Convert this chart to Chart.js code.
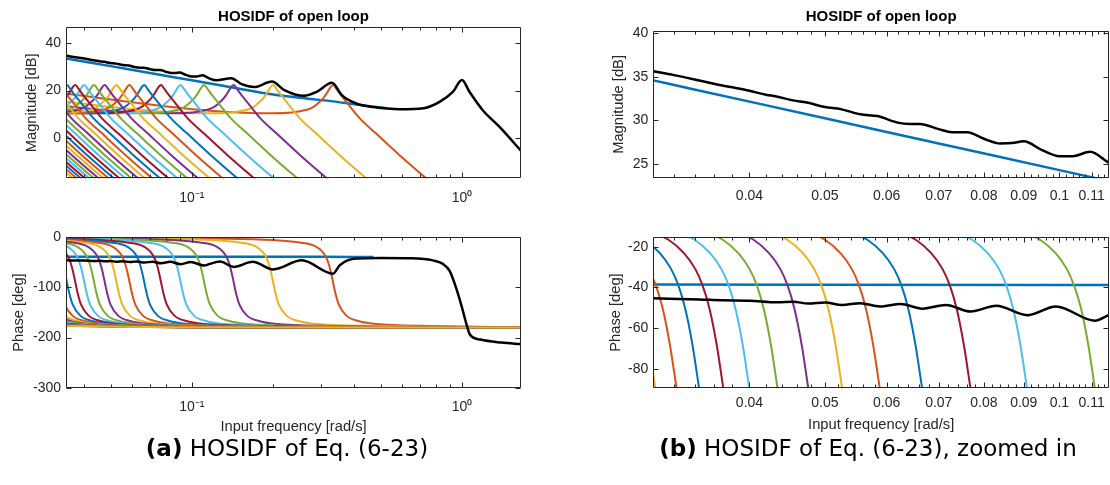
<!DOCTYPE html>
<html>
<head>
<meta charset="utf-8">
<script src="https://cdn.jsdelivr.net/npm/chart.js@4.4.1/dist/chart.umd.min.js"></script>
<style>
  html, body { margin: 0; padding: 0; background: #fff; }
  #page { position: relative; width: 1110px; height: 485px; overflow: hidden; }
  #page canvas { position: absolute; }
  .cap { position: absolute; top: 434px; width: 600px; line-height: 28px; text-align: center;
         font-family: "DejaVu Sans", sans-serif; font-size: 23px; color: #000; white-space: nowrap; }
</style>
</head>
<body>
<div id="page">
  <canvas id="magFull" width="587" height="215" style="left:0;top:0"></canvas>
  <canvas id="phaseFull" width="587" height="230" style="left:0;top:215px"></canvas>
  <canvas id="magZoom" width="562" height="215" style="left:600px;top:0"></canvas>
  <canvas id="phaseZoom" width="520" height="230" style="left:600px;top:215px"></canvas>
  <div class="cap" style="left:-13px"><b>(a)</b> HOSIDF of Eq. (6-23)</div>
  <div class="cap" style="left:568px"><b>(b)</b> HOSIDF of Eq. (6-23), zoomed in</div>
</div>
<script>
(function () {
  "use strict";

  // ------------------------------------------------------------
  // Data
  // ------------------------------------------------------------

  // black curve (open loop, first harmonic)
  const blackMagFreq = [0.0301, 0.032, 0.034, 0.036, 0.038, 0.04, 0.042, 0.0433, 0.0455, 0.0474, 0.05, 0.0524, 0.0555, 0.0584, 0.062, 0.0642, 0.0662, 0.07, 0.0728, 0.0762, 0.08, 0.084, 0.087, 0.09, 0.095, 0.1, 0.104, 0.1095, 0.116, 0.123, 0.14, 0.153, 0.17, 0.198, 0.22, 0.26, 0.29, 0.33, 0.36, 0.406, 0.47, 0.59, 0.72, 0.826, 0.925, 1.0, 1.066, 1.194, 1.375, 1.66];
  const blackMag = [35.65, 35.2, 34.7, 34.2, 33.8, 33.4, 32.95, 32.75, 32.3, 32.05, 31.55, 31.3, 30.7, 30.5, 29.75, 29.6, 29.6, 29.0, 28.65, 28.65, 27.9, 27.35, 27.4, 27.6, 26.6, 25.9, 25.9, 26.4, 25.1, 24.3, 25.2, 22.7, 21.5, 23.8, 20.2, 17.8, 19.5, 23.3, 18.0, 14.6, 13.1, 12.2, 12.6, 15.3, 19.5, 24.4, 19.5, 11.8, 4.9, -5.4];
  const blackPhaseFreq = [0.0301, 0.0345, 0.037, 0.04, 0.0435, 0.0455, 0.0476, 0.05, 0.0526, 0.0555, 0.0588, 0.0625, 0.0667, 0.0715, 0.0769, 0.083, 0.0909, 0.099, 0.111, 0.1165, 0.127, 0.143, 0.168, 0.2, 0.255, 0.333, 0.353, 0.406, 0.5, 0.65, 0.78, 0.85, 0.9, 0.95, 1.0, 1.04, 1.07, 1.17, 1.4, 1.66];
  const blackPhase = [-45.3, -45.9, -46.3, -46.5, -47.3, -47.0, -47.9, -47.4, -48.6, -47.7, -49.3, -48.1, -50.4, -48.6, -51.8, -49.0, -53.6, -49.3, -56.3, -53, -48.5, -59, -49, -64, -46, -72.5, -55.6, -42.5, -41.5, -42, -46, -53, -67, -100, -140, -174, -194, -204, -210, -213];

  // blue curve
  const blueMagFreq = [0.0301, 0.0342, 0.05, 0.07, 0.1, 0.14, 0.2, 0.27, 0.333, 0.4, 0.47, 0.52];
  const blueMag = [34.6, 33.5, 30.25, 27.35, 24.3, 21.4, 18.35, 16.6, 15.5, 14.3, 13.3, 12.7];
  const bluePhaseFreq = [0.0301, 0.1, 0.3, 0.47];
  const bluePhase = [-38.6, -38.8, -39.0, -39.2];

  // higher harmonics: levels shared by every harmonic (they are the same curve
  // moved along the axis), the frequencies where each harmonic passes them
  const magLevels = [19.0, 14.5, 11.6, 10.5, 12.0, 13.3, 15.2, 16.9, 18.3, 20.0, 21.6, 22.4, 21.3, 19.3, 15.3, 8.6, 1.8, -6.7, -16.5, -25, -50, -100];
  const phaseLevels = [-0.6, -1.2, -2.3, -5.4, -12.5, -16.6, -23.2, -30.9, -38.9, -50.8, -68, -90, -111.6, -134.3, -156.2, -167.5, -172.9, -175.2, -176.7, -177.5, -179.3, -180];

  const freqH3 = [0.03333, 0.06667, 0.1167, 0.2, 0.2667, 0.2833, 0.2967, 0.3067, 0.3133, 0.32, 0.3267, 0.3333, 0.34, 0.35, 0.3733, 0.4167, 0.4833, 0.5833, 0.7333, 0.9, 1.667, 33.33];
  const freqH5 = [0.02, 0.04, 0.07, 0.12, 0.16, 0.17, 0.178, 0.184, 0.188, 0.192, 0.196, 0.2, 0.204, 0.21, 0.224, 0.25, 0.29, 0.35, 0.44, 0.54, 1.0, 20];
  const freqH7 = [0.02857, 0.05, 0.08571, 0.1143, 0.1214, 0.1271, 0.1314, 0.1343, 0.1371, 0.14, 0.1429, 0.1457, 0.15, 0.16, 0.1786, 0.2071, 0.25, 0.3143, 0.3857, 0.7143, 14.29];
  const freqH9 = [0.02222, 0.03889, 0.06667, 0.08889, 0.09444, 0.09889, 0.1022, 0.1044, 0.1067, 0.1089, 0.1111, 0.1133, 0.1167, 0.1244, 0.1389, 0.1611, 0.1944, 0.2444, 0.3, 0.5556, 11.11];
  const freqH11 = [0.03182, 0.05455, 0.07273, 0.07727, 0.08091, 0.08364, 0.08545, 0.08727, 0.08909, 0.09091, 0.09273, 0.09545, 0.1018, 0.1136, 0.1318, 0.1591, 0.2, 0.2455, 0.4545, 9.091];
  const freqH13 = [0.02692, 0.04615, 0.06154, 0.06538, 0.06846, 0.07077, 0.07231, 0.07385, 0.07538, 0.07692, 0.07846, 0.08077, 0.08615, 0.09615, 0.1115, 0.1346, 0.1692, 0.2077, 0.3846, 7.692];
  const freqH15 = [0.02333, 0.04, 0.05333, 0.05667, 0.05933, 0.06133, 0.06267, 0.064, 0.06533, 0.06667, 0.068, 0.07, 0.07467, 0.08333, 0.09667, 0.1167, 0.1467, 0.18, 0.3333, 6.667];
  const freqH17 = [0.02059, 0.03529, 0.04706, 0.05, 0.05235, 0.05412, 0.05529, 0.05647, 0.05765, 0.05882, 0.06, 0.06176, 0.06588, 0.07353, 0.08529, 0.1029, 0.1294, 0.1588, 0.2941, 5.882];
  const freqH19 = [0.03158, 0.04211, 0.04474, 0.04684, 0.04842, 0.04947, 0.05053, 0.05158, 0.05263, 0.05368, 0.05526, 0.05895, 0.06579, 0.07632, 0.09211, 0.1158, 0.1421, 0.2632, 5.263];
  const freqH21 = [0.02857, 0.0381, 0.04048, 0.04238, 0.04381, 0.04476, 0.04571, 0.04667, 0.04762, 0.04857, 0.05, 0.05333, 0.05952, 0.06905, 0.08333, 0.1048, 0.1286, 0.2381, 4.762];
  const freqH23 = [0.02609, 0.03478, 0.03696, 0.0387, 0.04, 0.04087, 0.04174, 0.04261, 0.04348, 0.04435, 0.04565, 0.0487, 0.05435, 0.06304, 0.07609, 0.09565, 0.1174, 0.2174, 4.348];
  const freqH25 = [0.032, 0.034, 0.0356, 0.0368, 0.0376, 0.0384, 0.0392, 0.04, 0.0408, 0.042, 0.0448, 0.05, 0.058, 0.07, 0.088, 0.108, 0.2, 4];
  const freqH27 = [0.02963, 0.03148, 0.03296, 0.03407, 0.03481, 0.03556, 0.0363, 0.03704, 0.03778, 0.03889, 0.04148, 0.0463, 0.0537, 0.06481, 0.08148, 0.1, 0.1852, 3.704];
  const freqH29 = [0.02931, 0.03069, 0.03172, 0.03241, 0.0331, 0.03379, 0.03448, 0.03517, 0.03621, 0.03862, 0.0431, 0.05, 0.06034, 0.07586, 0.0931, 0.1724, 3.448];
  const freqH31 = [0.02968, 0.03032, 0.03097, 0.03161, 0.03226, 0.0329, 0.03387, 0.03613, 0.04032, 0.04677, 0.05645, 0.07097, 0.0871, 0.1613, 3.226];
  const freqH33 = [0.0297, 0.0303, 0.03091, 0.03182, 0.03394, 0.03788, 0.04394, 0.05303, 0.06667, 0.08182, 0.1515, 3.03];
  const freqH35 = [0.032, 0.03571, 0.04143, 0.05, 0.06286, 0.07714, 0.1429, 2.857];
  const freqH37 = [0.03378, 0.03919, 0.0473, 0.05946, 0.07297, 0.1351, 2.703];
  const freqH39 = [0.03205, 0.03718, 0.04487, 0.05641, 0.06923, 0.1282, 2.564];
  const freqH41 = [0.03049, 0.03537, 0.04268, 0.05366, 0.06585, 0.122, 2.439];
  const freqH43 = [0.03372, 0.0407, 0.05116, 0.06279, 0.1163, 2.326];
  const freqH45 = [0.03222, 0.03889, 0.04889, 0.06, 0.1111, 2.222];
  const freqH47 = [0.03085, 0.03723, 0.04681, 0.05745, 0.1064, 2.128];
  const freqH49 = [0.02959, 0.03571, 0.0449, 0.0551, 0.102, 2.041];
  const freqH51 = [0.02843, 0.03431, 0.04314, 0.05294, 0.09804, 1.961];
  const freqH53 = [0.03302, 0.04151, 0.05094, 0.09434, 1.887];
  const freqH55 = [0.03182, 0.04, 0.04909, 0.09091, 1.818];
  const freqH57 = [0.0307, 0.0386, 0.04737, 0.08772, 1.754];
  const freqH59 = [0.02966, 0.03729, 0.04576, 0.08475, 1.695];
  const freqH61 = [0.02869, 0.03607, 0.04426, 0.08197, 1.639];

  const harmonicOrders = [3, 5, 7, 9, 11, 13, 15, 17, 19, 21, 23, 25, 27, 29, 31, 33, 35, 37, 39, 41, 43, 45, 47, 49, 51, 53, 55, 57, 59, 61];
  const harmonicFreqs = [freqH3, freqH5, freqH7, freqH9, freqH11, freqH13, freqH15, freqH17, freqH19, freqH21, freqH23, freqH25, freqH27, freqH29, freqH31, freqH33, freqH35, freqH37, freqH39, freqH41, freqH43, freqH45, freqH47, freqH49, freqH51, freqH53, freqH55, freqH57, freqH59, freqH61];

  // axis ticks
  const fullTicks = [0.1, 1];
  const fullTickLabels = ["10\u207B\u00B9", "10\u2070"];
  const fullMinor = [0.04, 0.05, 0.06, 0.07, 0.08, 0.09, 0.2, 0.3, 0.4, 0.5, 0.6, 0.7, 0.8, 0.9];
  const zoomTicks = [0.04, 0.05, 0.06, 0.07, 0.08, 0.09, 0.1, 0.11];
  const zoomTickLabels = ["0.04", "0.05", "0.06", "0.07", "0.08", "0.09", "0.1", "0.11"];
  const zoomMinor = [0.032, 0.034, 0.036, 0.038, 0.042, 0.044, 0.046, 0.048, 0.052, 0.054, 0.056, 0.058, 0.062, 0.064, 0.066, 0.068, 0.072, 0.074, 0.076, 0.078, 0.082, 0.084, 0.086, 0.088, 0.092, 0.094, 0.096, 0.098, 0.102, 0.104, 0.106, 0.108, 0.112, 0.114];

  // matlab default colour order
  const lineColors = ["#0072BD", "#D95319", "#EDB120", "#7E2F8E", "#77AC30", "#4DBEEE", "#A2142F"];

  const AXIS_COLOR = "#262626";
  const FONT = "Liberation Sans";

  // ------------------------------------------------------------
  // helpers
  // ------------------------------------------------------------
  function pairs(xs, ys) {
    return xs.map((x, i) => ({ x: x, y: ys[i] }));
  }

  function curve(xs, ys, color, width) {
    return { data: pairs(xs, ys), borderColor: color, borderWidth: width, showLine: true, pointRadius: 0, clip: 0 };
  }

  function harmonicCurves(levels) {
    // higher orders listed first so they end up drawn on top
    const sets = harmonicOrders.map((n, i) => {
      const f = harmonicFreqs[i];
      const lv = levels.slice(levels.length - f.length);
      return curve(f, lv, lineColors[((n - 1) / 2) % 7], 2);
    });
    return sets.reverse();
  }

  // box + inward tick marks like matlab axes
  const matlabAxes = {
    id: "matlabAxes",
    afterDatasetsDraw(chart, args, opts) {
      const { ctx, chartArea: a } = chart;
      const x = chart.scales.x, y = chart.scales.y;
      const L = Math.round(a.left) + 0.5, R = Math.round(a.right) - 0.5;
      const T = Math.round(a.top) + 0.5, B = Math.round(a.bottom) - 0.5;
      ctx.save();
      ctx.strokeStyle = AXIS_COLOR;
      ctx.lineWidth = 1;
      ctx.beginPath();
      const xMark = (v, len) => {
        const p = Math.round(x.getPixelForValue(v)) + 0.5;
        ctx.moveTo(p, B); ctx.lineTo(p, B - len);
        ctx.moveTo(p, T); ctx.lineTo(p, T + len);
      };
      const yMark = (v, len) => {
        const p = Math.round(y.getPixelForValue(v)) + 0.5;
        ctx.moveTo(L, p); ctx.lineTo(L + len, p);
        ctx.moveTo(R, p); ctx.lineTo(R - len, p);
      };
      x.ticks.forEach(t => xMark(t.value, 5));
      (opts.xMinor || []).forEach(v => xMark(v, 3));
      y.ticks.forEach(t => yMark(t.value, 5));
      ctx.rect(L, T, R - L, B - T);
      ctx.stroke();
      ctx.restore();
    }
  };

  function makePanel(id, c) {
    return new Chart(document.getElementById(id), {
      type: "scatter",
      data: { datasets: c.datasets },
      options: {
        responsive: false,
        animation: false,
        events: [],
        layout: { padding: c.padding },
        elements: { line: { cubicInterpolationMode: "monotone" }, point: { radius: 0 } },
        plugins: {
          legend: { display: false },
          tooltip: { enabled: false },
          title: c.title ? {
            display: true, text: c.title, color: "#000", fullSize: false,
            font: { family: FONT, size: 15, weight: "bold" },
            padding: { top: 7.5, bottom: c.titlePad }
          } : { display: false },
          matlabAxes: { xMinor: c.xMinor }
        },
        scales: {
          x: {
            type: "logarithmic",
            min: c.xMin, max: c.xMax,
            afterBuildTicks: s => { s.ticks = c.xTicks.map(v => ({ value: v })); },
            afterFit: s => { s.height = c.xAxisHeight; },
            grid: { display: false, drawTicks: false },
            border: { display: false },
            ticks: {
              autoSkip: false, maxRotation: 0, minRotation: 0,
              padding: c.xTickPad, color: AXIS_COLOR,
              font: { family: FONT, size: 14 },
              callback: (v, i) => c.xLabels[i]
            },
            title: c.xTitle ? {
              display: true, text: c.xTitle, color: AXIS_COLOR,
              font: { family: FONT, size: 14.7 },
              padding: { top: 0, bottom: c.xTitlePad }
            } : { display: false }
          },
          y: {
            min: c.yMin, max: c.yMax,
            afterBuildTicks: s => { s.ticks = c.yTicks.map(v => ({ value: v })); },
            afterFit: s => { s.width = c.yAxisWidth; },
            grid: { display: false, drawTicks: false },
            border: { display: false },
            ticks: {
              padding: 5, color: AXIS_COLOR,
              font: { family: FONT, size: 14 },
              callback: v => String(v)
            },
            title: {
              display: true, text: c.yTitle, color: AXIS_COLOR,
              font: { family: FONT, size: 14.7 },
              padding: { top: c.yTitlePad, bottom: 0 }
            }
          }
        }
      },
      plugins: [matlabAxes]
    });
  }

  // ------------------------------------------------------------
  // panels
  // ------------------------------------------------------------
  makePanel("magFull", {
    datasets: [curve(blackMagFreq, blackMag, "#000", 2.5)]
      .concat(harmonicCurves(magLevels), [curve(blueMagFreq, blueMag, lineColors[0], 2.5)]),
    padding: { left: 0, top: 0, right: 66, bottom: 0 },
    title: "HOSIDF of open loop", titlePad: 1.8,
    xMin: 0.0342, xMax: 1.654, xTicks: fullTicks, xLabels: fullTickLabels, xMinor: fullMinor,
    xAxisHeight: 36.7, xTickPad: 11.3,
    yMin: -16.7, yMax: 46.5, yTicks: [0, 20, 40], yAxisWidth: 66,
    yTitle: "Magnitude [dB]", yTitlePad: 23
  });

  makePanel("phaseFull", {
    datasets: [curve(blackPhaseFreq, blackPhase, "#000", 2.5)]
      .concat(harmonicCurves(phaseLevels), [curve(bluePhaseFreq, bluePhase, lineColors[0], 2.5)]),
    padding: { left: 0, top: 22.3, right: 66, bottom: 0 },
    xMin: 0.0342, xMax: 1.654, xTicks: fullTicks, xLabels: fullTickLabels, xMinor: fullMinor,
    xAxisHeight: 57.3, xTickPad: 10.6,
    xTitle: "Input frequency [rad/s]", xTitlePad: 9.2,
    yMin: -300, yMax: 0, yTicks: [-300, -200, -100, 0], yAxisWidth: 66,
    yTitle: "Phase [deg]", yTitlePad: 10.2
  });

  makePanel("magZoom", {
    datasets: [curve(blackMagFreq, blackMag, "#000", 2.5), curve(blueMagFreq, blueMag, lineColors[0], 2.5)],
    padding: { left: 0, top: 0, right: 53, bottom: 0 },
    title: "HOSIDF of open loop", titlePad: 5,
    xMin: 0.0301, xMax: 0.1158, xTicks: zoomTicks, xLabels: zoomTickLabels, xMinor: zoomMinor,
    xAxisHeight: 36.7, xTickPad: 9.1,
    yMin: 23.36, yMax: 40.32, yTicks: [25, 30, 35, 40], yAxisWidth: 53.3,
    yTitle: "Magnitude [dB]", yTitlePad: 10.2
  });

  makePanel("phaseZoom", {
    datasets: [curve(blackPhaseFreq, blackPhase, "#000", 2.5)]
      .concat(harmonicCurves(phaseLevels), [curve(bluePhaseFreq, bluePhase, lineColors[0], 2.5)]),
    padding: { left: 0, top: 22.3, right: 11, bottom: 0 },
    xMin: 0.0301, xMax: 0.1158, xTicks: zoomTicks, xLabels: zoomTickLabels, xMinor: zoomMinor,
    xAxisHeight: 57.3, xTickPad: 7.2,
    xTitle: "Input frequency [rad/s]", xTitlePad: 11.2,
    yMin: -89.2, yMax: -15.4, yTicks: [-80, -60, -40, -20], yAxisWidth: 53.3,
    yTitle: "Phase [deg]", yTitlePad: 7.2
  });
})();
</script>
</body>
</html>
